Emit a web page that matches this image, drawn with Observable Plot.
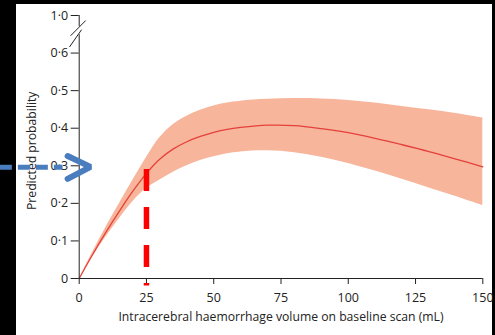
<!DOCTYPE html>
<html><head><meta charset="utf-8">
<script src="https://cdn.jsdelivr.net/npm/d3@7"></script>
<script src="https://cdn.jsdelivr.net/npm/@observablehq/plot@0.6"></script>
<style>
body{margin:0;background:#fff}
svg{display:block}
</style>
</head><body><div id="chart"></div>
<script>
// Data
const volume = [0,5,10,15,20,25,30,35,40,45,50,55,60,70,80,90,100,110,120,130,140,150];
const predicted = [0,0.064,0.124,0.18,0.233,0.28,0.318,0.345,0.364,0.378,0.389,0.397,0.402,0.408,0.407,0.399,0.388,0.373,0.356,0.338,0.318,0.297];
const upperCI = [0,0.07,0.137,0.2,0.262,0.322,0.375,0.41,0.432,0.448,0.459,0.467,0.472,0.477,0.479,0.478,0.474,0.467,0.458,0.449,0.439,0.427];
const lowerCI = [0,0.058,0.111,0.16,0.205,0.24,0.262,0.283,0.3,0.314,0.324,0.332,0.337,0.34,0.335,0.323,0.306,0.286,0.264,0.241,0.218,0.194];
const xTicks = [0,25,50,75,100,125,150];
const yTicks = [0,0.1,0.2,0.3,0.4,0.5,0.6,1.0];
const xLabel = "Intracerebral haemorrhage volume on baseline scan (mL)";
const yLabel = "Predicted probability";
// annotations
const markerVolume = 25;            // red dashed marker
const markerTop = 0.29;
const arrowLevel = 0.296;           // blue arrow pointing to ~0.3
const arrowStart = -29.3, arrowShaftEnd = -6;
const arrowHead = [{x:-4.3,y:0.326},{x:4.2,y:0.297},{x:-4.3,y:0.265}];
// axis break (values above 0.6 are compressed)
const breakAt = 0.6, breakScale = 0.25;
const yAxisSegments = [{y1:0, y2:0.795},{y1:0.881, y2:1.0}];
const breakSlashes = [{x1:2.4,y1:0.946,x2:-3.2,y2:0.784},{x1:0.9,y1:0.849,x2:-3.6,y2:0.665}];

const rows = volume.map((v,i)=>({v, p:predicted[i], lo:lowerCI[i], hi:upperCI[i]}));
const fmt = d => d === 0 ? "0" : d.toFixed(1).replace(".", "\u00b7");
const font = "'Open Sans', sans-serif";

const chart = Plot.plot({
  width: 495, height: 335,
  marginLeft: 78.7, marginRight: 12.7, marginTop: 15, marginBottom: 57,
  style: {
    fontFamily: font,
    background: "linear-gradient(#000,#000) left top/16px 100% no-repeat, linear-gradient(#000,#000) left top/100% 4px no-repeat, linear-gradient(#000,#000) right top/3px 100% no-repeat, #fff",
    color: "#222"
  },
  x: {domain: [0,150], axis: null},
  y: {domain: [0,0.7], axis: null, transform: v => v <= breakAt ? v : breakAt + (v - breakAt) * breakScale},
  marks: [
    Plot.areaY(rows, {x:"v", y1:"lo", y2:"hi", fill:"#f7b59c", curve:"catmull-rom"}),
    Plot.line(rows, {x:"v", y:"p", stroke:"#e5413a", strokeWidth:1.3, curve:"catmull-rom"}),
    Plot.ruleY([0], {x1:0, x2:150, stroke:"#222", strokeWidth:1}),
    Plot.ruleX(yAxisSegments, {x:0, y1:"y1", y2:"y2", stroke:"#222", strokeWidth:1}),
    Plot.link(breakSlashes, {x1:"x1", y1:"y1", x2:"x2", y2:"y2", stroke:"#222", strokeWidth:1}),
    Plot.axisX({ticks: xTicks, tickSize:6, tickPadding:9, fontSize:12.5, label:null, stroke:"#222"}),
    Plot.ruleY(yTicks, {y:d=>d, x1:0, x2:0, insetLeft:-8, stroke:"#222", strokeWidth:1}),
    Plot.text(yTicks, {x:0, y:d=>d, text:fmt, textAnchor:"end", dx:-11, fontSize:12.5, fill:"#222"}),
    Plot.text([xLabel], {frameAnchor:"bottom", text:d=>d, dy:42, fontSize:12.2, fill:"#222"}),
    Plot.text([yLabel], {x:-17.4, y:0.34, text:d=>d, rotate:-90, fontSize:12.2, fill:"#222"}),
    Plot.ruleX([markerVolume], {y1:markerTop, y2:-0.02, stroke:"#ff0000", strokeWidth:5.5, strokeDasharray:"22,16"}),
    Plot.ruleY([arrowLevel], {x1:arrowStart, x2:arrowShaftEnd, stroke:"#4a7dbd", strokeWidth:5, strokeDasharray:"12,6"}),
    Plot.line(arrowHead, {x:"x", y:"y", stroke:"#4a7dbd", strokeWidth:6, strokeLinejoin:"miter"})
  ]
});
document.getElementById("chart").appendChild(chart);
</script>
</body></html>
